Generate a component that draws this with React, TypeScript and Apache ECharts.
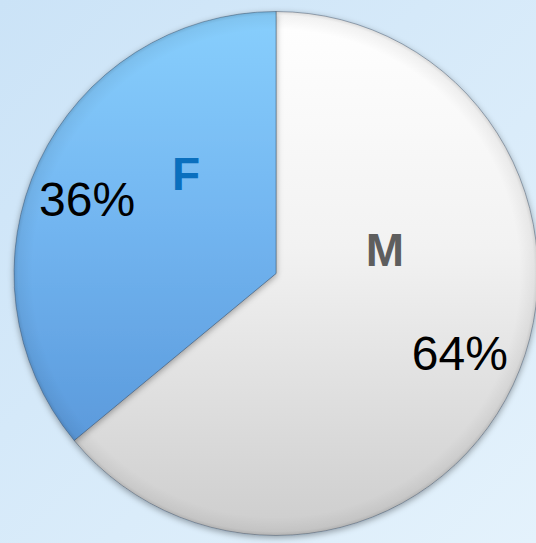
import React, { useEffect, useRef } from "react";
import * as echarts from "echarts";

// ---- data ----
const categories = ["M", "F"];
const shares = [64, 36];

// ---- style ----
const W = 536;
const H = 543;
const CX = 276;
const CY = 273.5;
const R = 262;
const nameColors = ["#5E5E5E", "#0A6FBE"];
const nameOffsets: [number, number][] = [
  [109, -24],
  [-90, -100],
];
const pctNudges: [number, number][] = [
  [1, -6],
  [-6, 12],
];
const sliceFills = [
  {
    type: "linear", x: 0, y: 0, x2: 0, y2: 1,
    colorStops: [
      { offset: 0, color: "#FFFFFF" },
      { offset: 0.45, color: "#F2F2F2" },
      { offset: 1, color: "#CDCDCD" },
    ],
  },
  {
    type: "linear", x: 0, y: 0, x2: 0, y2: 1,
    colorStops: [
      { offset: 0, color: "#88CFFD" },
      { offset: 0.5, color: "#72B5F0" },
      { offset: 1, color: "#5B9ADC" },
    ],
  },
];
const FONT = "'Liberation Sans', Arial, sans-serif";

export default function App() {
  const ref = useRef<HTMLDivElement>(null);
  useEffect(() => {
    document.body.style.margin = "0";
    if (!ref.current) return;
    const chart = echarts.init(ref.current, undefined, { renderer: "svg" });
    const option = {
      animation: false,
      backgroundColor: {
        type: "linear", x: 0, y: 0, x2: 1, y2: 1,
        colorStops: [
          { offset: 0, color: "#CBE3F7" },
          { offset: 1, color: "#E4F2FC" },
        ],
      },
      series: [
        {
          type: "pie",
          center: [CX, CY],
          radius: [0, R],
          startAngle: 90,
          clockwise: true,
          silent: true,
          itemStyle: {
            borderColor: "rgba(60,80,105,0.45)",
            borderWidth: 1,
            shadowBlur: 6,
            shadowOffsetY: 2,
            shadowColor: "rgba(0,0,0,0.35)",
          },
          label: {
            show: true,
            position: "inside",
            formatter: "{b}",
            fontFamily: FONT,
            fontWeight: "bold",
            fontSize: 46,
          },
          labelLine: { show: false },
          labelLayout: (params: any) => {
            const o = nameOffsets[params.dataIndex];
            return { x: CX + o[0], y: CY + o[1], align: "center", verticalAlign: "middle" };
          },
          data: categories.map((c, i) => ({
            name: c,
            value: shares[i],
            itemStyle: { color: sliceFills[i] },
            label: { color: nameColors[i] },
          })),
        },
        {
          type: "pie",
          center: [CX, CY],
          radius: [0, R],
          startAngle: 90,
          silent: true,
          label: { show: false },
          labelLine: { show: false },
          itemStyle: {
            color: {
              type: "radial", x: CX, y: CY, r: R, global: true,
              colorStops: [
                { offset: 0, color: "rgba(0,0,0,0)" },
                { offset: 0.93, color: "rgba(0,0,0,0)" },
                { offset: 0.985, color: "rgba(0,0,0,0.05)" },
                { offset: 1, color: "rgba(0,0,0,0.14)" },
              ],
            },
          },
          data: categories.map((c, i) => ({ name: c, value: shares[i] })),
        },
        {
          type: "pie",
          center: [CX, CY],
          radius: [R * 0.52, R],
          startAngle: 90,
          silent: true,
          itemStyle: { color: "rgba(0,0,0,0)" },
          label: {
            show: true,
            position: "inside",
            formatter: "{d}%",
            color: "#000000",
            fontFamily: FONT,
            fontSize: 48,
          },
          labelLine: { show: false },
          labelLayout: (params: any) => {
            const n = pctNudges[params.dataIndex];
            return { dx: n[0], dy: n[1] };
          },
          data: categories.map((c, i) => ({ name: c, value: shares[i] })),
        },
      ],
    };
    chart.setOption(option as any);
    return () => chart.dispose();
  }, []);
  return <div ref={ref} style={{ width: W, height: H }} />;
}
